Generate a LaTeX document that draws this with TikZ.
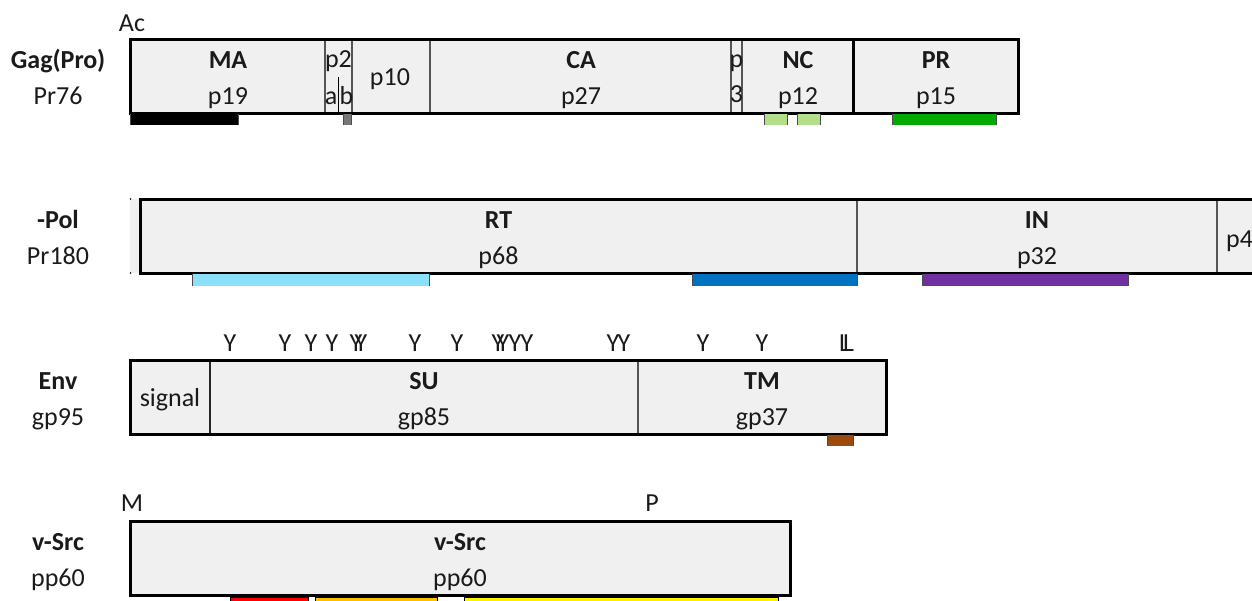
\documentclass[tikz,border=0pt]{standalone}
\usepackage{fontspec}
\setmainfont{Carlito}
\definecolor{segfill}{HTML}{F0F0F0}
\definecolor{divgray}{HTML}{555555}
\definecolor{lgreen}{HTML}{B5DE8A}
\definecolor{dgreen}{HTML}{00AA00}
\definecolor{lblue}{HTML}{8CE0FA}
\definecolor{mblue}{HTML}{0070C0}
\definecolor{purp}{HTML}{7030A0}
\definecolor{brownbar}{HTML}{9C4A0E}
\definecolor{orangebar}{HTML}{FFC000}
\definecolor{graybar}{HTML}{777777}
\definecolor{txt}{HTML}{1A1A1A}
\newcommand{\domainbar}[5]{%
  \fill[#5] (#1,#2) rectangle (#3,#4);
  \draw[black!70, line width=1pt] (#1,#2) -- (#1,#4) (#3,#2) -- (#3,#4);}
\begin{document}
\begin{tikzpicture}[x=1pt,y=-1pt,
  seg/.style={draw=divgray, line width=1.8pt, fill=segfill, inner sep=0pt, outer sep=0pt, minimum height=74pt, anchor=north west},
  outer/.style={draw=black, line width=3pt},
  lbl/.style={anchor=base, inner sep=0pt, text=txt, font=\fontsize{26}{30}\selectfont},
  blbl/.style={anchor=base, inner sep=0pt, text=txt, font=\fontsize{26}{30}\selectfont\bfseries}]
\useasboundingbox (0,0) rectangle (1252,600);
\clip (0,0) rectangle (1252,600);

% ---------------- Gag ----------------
\node[seg, minimum width=195pt] (ma) at (130,39) {};
\node[seg, minimum width=27pt] (p2) at (325,39) {};
\node[seg, minimum width=78pt] (p10) at (352,39) {};
\node[seg, minimum width=301pt] (ca) at (430,39) {};
\node[seg, minimum width=11pt] (p3) at (731,39) {};
\node[seg, minimum width=111pt] (nc) at (742,39) {};
\node[seg, minimum width=165pt] (pr) at (853,39) {};
\coordinate (abtop) at (338,77);
\coordinate (abbot) at (338,113);
\draw[line width=1pt] (abtop) -- (abbot);
\draw[outer] (ma.north west) rectangle (nc.south east);
\draw[outer] (pr.north west) rectangle (pr.south east);

\node[lbl] (ac) at (132,31) {Ac};
\node[blbl] (gagname) at (58,68) {Gag(Pro)};
\node[lbl] (gagsub) at (58,104) {Pr76};
\node[blbl] (tma) at (228,68) {MA};
\node[lbl] (tp19) at (228,104) {p19};
\node[lbl] (tp2) at (338.5,67) {p2};
\node[lbl] (ta) at (331,104) {a};
\node[lbl] (tb) at (346.5,104) {b};
\node[lbl] (tp10) at (390,85) {p10};
\node[blbl] (tca) at (581,68) {CA};
\node[lbl] (tp27) at (581,104) {p27};
\node[lbl] (tp) at (736.5,67) {p};
\node[lbl] (t3) at (736.5,102) {3};
\node[blbl] (tnc) at (798,68) {NC};
\node[lbl] (tp12) at (798,104) {p12};
\node[blbl] (tpr) at (936,68) {PR};
\node[lbl] (tp15) at (936,104) {p15};

\domainbar{130}{114}{238}{125}{black}
\domainbar{343}{114}{351}{125}{graybar}
\domainbar{764}{114}{787}{125}{lgreen}
\domainbar{797}{114}{820}{125}{lgreen}
\domainbar{892}{114}{996}{125}{dgreen}

% ---------------- Pol ----------------
\fill[segfill] (130,199) rectangle (140,273);
\fill[black] (130.5,199) circle (0.9);
\fill[black] (130.5,273) circle (0.9);
\node[seg, minimum width=717pt] (rt) at (140,199) {};
\node[seg, minimum width=360pt] (in) at (857,199) {};
\node[seg, minimum width=60pt] (p4) at (1217,199) {};
\draw[outer] (1262,199) -- (rt.north west) -- (rt.south west) -- (1262,273);

\node[blbl] (polname) at (58,228) {-Pol};
\node[lbl] (polsub) at (58,264) {Pr180};
\node[blbl] (trt) at (498.5,228) {RT};
\node[lbl] (tp68) at (498.5,264) {p68};
\node[blbl] (tin) at (1037,228) {IN};
\node[lbl] (tp32) at (1037,264) {p32};
\node[lbl, anchor=base west] (tp4) at (1226,247) {p4};

\domainbar{192}{274}{429}{286}{lblue}
\domainbar{692}{274}{857}{286}{mblue}
\domainbar{922}{274}{1128}{286}{purp}

% ---------------- Env ----------------
\node[seg, minimum width=80pt, draw=black!85] (sig) at (130,360) {};
\node[seg, minimum width=428pt] (su) at (210,360) {};
\node[seg, minimum width=248pt] (tm) at (638,360) {};
\draw[black!85, line width=1.8pt] (sig.north east) -- (sig.south east);
\draw[outer] (sig.north west) rectangle (tm.south east);

\node[blbl] (envname) at (58,389) {Env};
\node[lbl] (envsub) at (58,425) {gp95};
\node[lbl] (tsig) at (170,406) {signal};
\node[blbl] (tsu) at (424,389) {SU};
\node[lbl] (tgp85) at (424,425) {gp85};
\node[blbl] (ttm) at (762,389) {TM};
\node[lbl] (tgp37) at (762,425) {gp37};

\foreach \xx [count=\i] in {230,285,311,332,356,361,415,457,498,503,515,527,613,624,703,762}
  \node[lbl] (y\i) at (\xx,351) {Y};
\node[lbl] (l1) at (844.5,351) {L};
\node[lbl] (l2) at (848.5,351) {L};

\domainbar{827}{435}{853}{446}{brownbar}

% ---------------- v-Src ----------------
\node[seg, minimum width=660pt] (src) at (130,521) {};
\draw[outer] (src.north west) rectangle (src.south east);

\node[lbl] (tm1) at (132,511) {M};
\node[lbl] (tpP) at (652,511) {P};
\node[blbl] (srcname) at (58,550) {v-Src};
\node[lbl] (srcsub) at (58,586) {pp60};
\node[blbl] (tsrc) at (460,550) {v-Src};
\node[lbl] (tpp60) at (460,586) {pp60};

\draw[black, line width=1pt, fill=red] (230,597) rectangle (308,604);
\draw[black, line width=1pt, fill=orangebar] (315,597) rectangle (437,604);
\draw[black, line width=1pt, fill=yellow] (464,597) rectangle (778,604);
\end{tikzpicture}
\end{document}
